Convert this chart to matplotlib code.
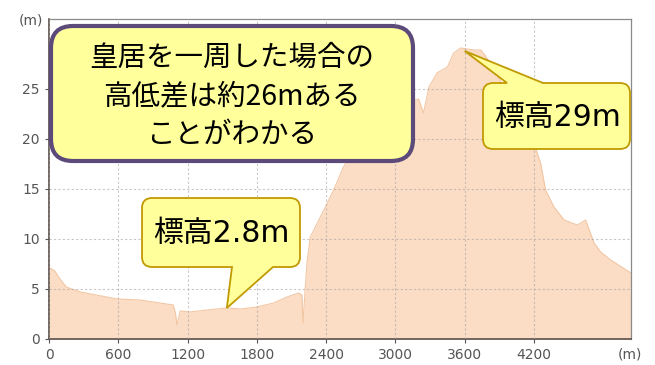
import matplotlib
matplotlib.use("Agg")
import matplotlib.pyplot as plt
import matplotlib.transforms as mtransforms
from matplotlib.path import Path
from matplotlib.patches import PathPatch

# elevation profile around the Imperial Palace
dist = [0, 10, 50, 95, 150, 270, 410, 590, 790, 960, 1075, 1095, 1107, 1120, 1136,
        1220, 1370, 1540, 1660, 1800, 1945, 2060, 2160, 2190, 2200, 2210, 2234, 2263,
        2380, 2465, 2550, 2650, 2750, 2850, 2950, 3050, 3150, 3200, 3243, 3290, 3360,
        3450, 3505, 3565, 3620, 3680, 3740, 3780, 3850, 3950, 4050, 4150, 4213, 4257,
        4300, 4373, 4460, 4575, 4647, 4720, 4777, 4864, 5040]
elev = [7.0, 7.1, 6.8, 6.0, 5.2, 4.7, 4.4, 4.0, 3.9, 3.6, 3.4, 2.6, 1.4, 2.0, 2.8,
        2.7, 2.9, 3.1, 3.0, 3.2, 3.6, 4.2, 4.6, 4.4, 1.6, 3.5, 7.6, 10.2,
        12.9, 14.9, 17.2, 19.0, 20.5, 21.5, 22.4, 23.2, 23.8, 24.0, 22.6, 25.2, 26.6,
        27.2, 28.6, 29.1, 29.0, 28.9, 28.9, 28.3, 27.0, 25.0, 22.8, 20.5, 19.1, 17.6,
        14.9, 13.2, 11.9, 11.4, 11.9, 9.6, 8.7, 7.9, 6.6]

xticks = [0, 600, 1200, 1800, 2400, 3000, 3600, 4200]
yticks = [0, 5, 10, 15, 20, 25]

note_lines = ["皇居を一周した場合の", "高低差は約26mある", "ことがわかる"]
low_label = "標高2.8m"
low_point = (1540, 3.1)
high_label = "標高29m"
high_point = (3600, 28.8)

W, H = 655, 365
fig = plt.figure(figsize=(W / 100, H / 100), dpi=100)
ax = fig.add_axes([49 / W, (H - 339) / H, (631 - 49) / W, (339 - 19) / H])

ax.fill_between(dist, elev, 0, color="#FBDDC6", lw=0)
ax.plot(dist, elev, color="#F3C6A2", lw=0.8)

ax.set_xlim(0, 5040)
ax.set_ylim(0, 32)
ax.set_xticks(xticks)
ax.set_yticks(yticks)
ax.grid(True, color="#A8A0A0", ls=(0, (2, 2)), lw=0.8, alpha=0.6)
ax.set_axisbelow(False)
ax.tick_params(labelsize=10, colors="#555555", length=3, width=0.8)
for s in ["left", "bottom"]:
    ax.spines[s].set_color("#5A4E48")
    ax.spines[s].set_linewidth(1.2)
for s in ["right", "top"]:
    ax.spines[s].set_color("#8A8A8A")
    ax.spines[s].set_linewidth(0.9)

fig.text(43 / W, 1 - 20 / H, "(m)", ha="right", va="center", fontsize=10, color="#555555")
fig.text(630 / W, 1 - 354 / H, "(m)", ha="center", va="center", fontsize=10, color="#555555")


def bubble(L, R, T, B, r, tail=None):
    # box in pixel coords measured from the top; tail = (side, x0, x1, tip_display)
    T, B = H - T, H - B
    bot = [(L + r, B)]
    top = []
    if tail and tail[0] == "bottom":
        bot += [(tail[1], B), tail[3], (tail[2], B)]
    if tail and tail[0] == "top":
        top = [(tail[2], T), tail[3], (tail[1], T)]
    verts = bot + [(R - r, B), (R, B), (R, B + r), (R, T - r), (R, T), (R - r, T)]
    verts += top + [(L + r, T), (L, T), (L, T - r), (L, B + r), (L, B), (L + r, B)]
    codes = [Path.MOVETO] + [Path.LINETO] * (len(bot) - 1)
    codes += [Path.LINETO, Path.CURVE3, Path.CURVE3, Path.LINETO, Path.CURVE3, Path.CURVE3]
    codes += [Path.LINETO] * len(top)
    codes += [Path.LINETO, Path.CURVE3, Path.CURVE3, Path.LINETO, Path.CURVE3, Path.CURVE3]
    return Path(verts, codes)


ident = mtransforms.IdentityTransform()
tip_low = tuple(ax.transData.transform(low_point))
tip_high = tuple(ax.transData.transform(high_point))

fig.add_artist(PathPatch(bubble(51, 413, 26, 161, 22), fc="#FFFF9C", ec="#5B4A7A",
                         lw=3, transform=ident, zorder=10))
for i, line in enumerate(note_lines):
    fig.text(232 / W, 1 - (58 + i * 38.5) / H, line, ha="center", va="center",
             fontsize=20.5, family=["Noto Sans CJK JP"], zorder=11)

fig.add_artist(PathPatch(bubble(142, 300, 198, 267, 10, ("bottom", 232, 273, tip_low)),
                         fc="#FFFF9C", ec="#C09A00", lw=1.3, transform=ident, zorder=10))
fig.text(221 / W, 1 - 234 / H, low_label, ha="center", va="center", fontsize=21.5,
         family=["DejaVu Sans", "Noto Sans CJK JP"], zorder=11)

fig.add_artist(PathPatch(bubble(483, 630, 83, 149, 10, ("top", 507, 543, tip_high)),
                         fc="#FFFF9C", ec="#C09A00", lw=1.3, transform=ident, zorder=10))
fig.text(557 / W, 1 - 117 / H, high_label, ha="center", va="center", fontsize=21.5,
         family=["DejaVu Sans", "Noto Sans CJK JP"], zorder=11)

fig.savefig("out.png", dpi=100)
